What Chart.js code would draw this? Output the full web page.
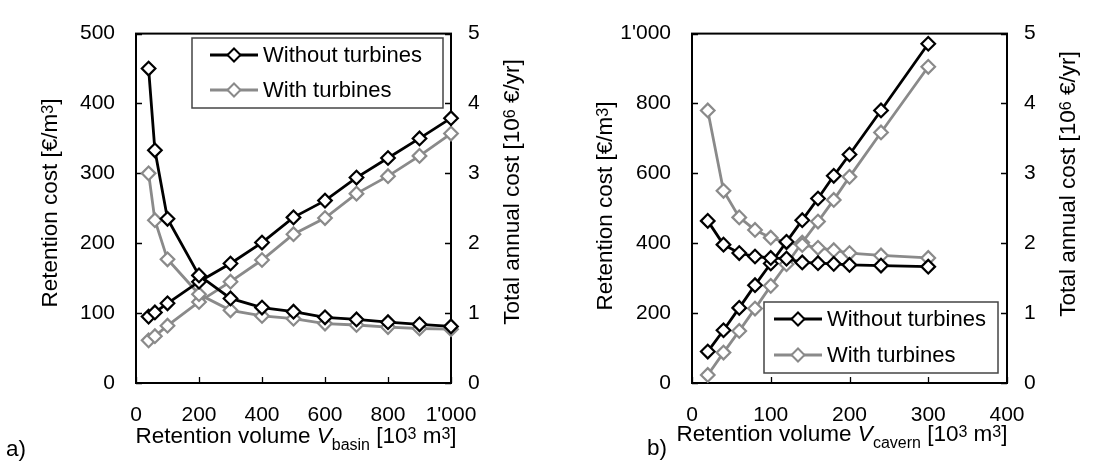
<!DOCTYPE html>
<html>
<head>
<meta charset="utf-8">
<script src="https://cdn.jsdelivr.net/npm/chart.js@4.4.1/dist/chart.umd.min.js"></script>
<style>
  body { margin: 0; background: #fff; }
  canvas { position: absolute; top: 0; }
</style>
</head>
<body>
<canvas id="chartA" width="557" height="463" style="left:0"></canvas>
<canvas id="chartB" width="560" height="463" style="left:557px"></canvas>
<script>
// a) retention basin
var volumeBasin = [40, 60, 100, 200, 300, 400, 500, 600, 700, 800, 900, 1000];
var costBasinNoTurb = [450, 333, 235, 154, 121, 108, 102, 94, 91, 87, 84, 81];
var costBasinTurb = [300, 233, 177, 127, 104, 96, 92, 85, 83, 80, 78, 77];
var annualBasinNoTurb = [0.95, 1.01, 1.14, 1.45, 1.71, 2.01, 2.37, 2.61, 2.94, 3.22, 3.50, 3.79];
var annualBasinTurb = [0.61, 0.67, 0.82, 1.16, 1.45, 1.76, 2.13, 2.36, 2.71, 2.96, 3.25, 3.57];

// b) cavern
var volumeCavern = [20, 40, 60, 80, 100, 120, 140, 160, 180, 200, 240, 300];
var costCavernNoTurb = [464, 396, 372, 362, 358, 356, 345, 343, 341, 338, 336, 333];
var costCavernTurb = [780, 550, 474, 438, 416, 402, 395, 387, 380, 372, 365, 358];
var annualCavernNoTurb = [0.45, 0.755, 1.075, 1.40, 1.71, 2.02, 2.33, 2.64, 2.965, 3.27, 3.90, 4.855];
var annualCavernTurb = [0.115, 0.435, 0.745, 1.065, 1.39, 1.70, 2.01, 2.31, 2.62, 2.95, 3.585, 4.525];

var seriesLabels = ['Without turbines', 'With turbines'];
var xTicksA = [0, 200, 400, 600, 800, 1000];
var xTicksB = [0, 100, 200, 300, 400];
var yTicksA = [0, 100, 200, 300, 400, 500];
var yTicksB = [0, 200, 400, 600, 800, 1000];
var y2Ticks = [0, 1, 2, 3, 4, 5];

var FONT = '"Liberation Sans", Arial, sans-serif';
var BLACK = '#000000';
var GREY = '#8a8a8a';
var TITLE_SIZE = 22.5;

function pts(xs, ys) {
    return xs.map(function (x, i) { return { x: x, y: ys[i] }; });
}

function fmt(v) {
    return String(v).replace(/\B(?=(\d{3})+(?!\d))/g, "'");
}

function fontFor(p, size) {
    if (p.s === 'sup' || p.s === 'sub') return Math.round(size * 0.7) + 'px ' + FONT;
    if (p.s === 'it') return 'italic ' + size + 'px ' + FONT;
    return size + 'px ' + FONT;
}

// text with italic / raised / lowered parts, centred on (x, y)
function drawRich(ctx, parts, x, y, size, rotate, align) {
    ctx.save();
    ctx.translate(x, y);
    if (rotate) ctx.rotate(-Math.PI / 2);
    ctx.textBaseline = 'alphabetic';
    ctx.textAlign = 'left';
    ctx.fillStyle = '#000';
    var total = 0;
    parts.forEach(function (p) { ctx.font = fontFor(p, size); total += ctx.measureText(p.t).width; });
    var cx = align === 'left' ? 0 : -total / 2;
    parts.forEach(function (p) {
        ctx.font = fontFor(p, size);
        var dy = p.s === 'sup' ? -0.2 * size : (p.s === 'sub' ? 0.3 * size : 0);
        ctx.fillText(p.t, cx, 0.36 * size + dy);
        cx += ctx.measureText(p.t).width;
    });
    ctx.restore();
}

var decorPlugin = {
    id: 'decor',
    beforeDatasetsDraw: function (chart, args, o) {
        var ctx = chart.ctx, a = chart.chartArea;
        ctx.save();
        ctx.strokeStyle = '#000';
        ctx.lineWidth = 2;
        ctx.strokeRect(a.left, a.top, a.right - a.left, a.bottom - a.top);
        ctx.lineWidth = 1.3;
        ctx.beginPath();
        var sx = chart.scales.x, sy = chart.scales.y, sy2 = chart.scales.y2;
        sx.ticks.forEach(function (t) {
            var px = Math.round(sx.getPixelForValue(t.value)) + 0.5;
            ctx.moveTo(px, a.bottom); ctx.lineTo(px, a.bottom - 6);
        });
        sy.ticks.forEach(function (t) {
            var py = Math.round(sy.getPixelForValue(t.value)) + 0.5;
            ctx.moveTo(a.left, py); ctx.lineTo(a.left + 6, py);
        });
        sy2.ticks.forEach(function (t) {
            var py = Math.round(sy2.getPixelForValue(t.value)) + 0.5;
            ctx.moveTo(a.right, py); ctx.lineTo(a.right - 6, py);
        });
        ctx.stroke();
        ctx.restore();
    },
    afterDraw: function (chart, args, o) {
        var ctx = chart.ctx;
        // legend
        var L = o.legend;
        ctx.save();
        ctx.fillStyle = '#fff';
        ctx.fillRect(L.x, L.y, L.w, L.h);
        ctx.strokeStyle = '#444';
        ctx.lineWidth = 1.5;
        ctx.strokeRect(L.x, L.y, L.w, L.h);
        [BLACK, GREY].forEach(function (col, i) {
            var ry = L.rows[i];
            ctx.strokeStyle = col;
            ctx.lineWidth = 2.8;
            ctx.beginPath();
            ctx.moveTo(L.lx0, ry); ctx.lineTo(L.lx1, ry);
            ctx.stroke();
            var mx = (L.lx0 + L.lx1) / 2, r = 6.5;
            ctx.fillStyle = '#fff';
            ctx.lineWidth = 2;
            ctx.beginPath();
            ctx.moveTo(mx - r, ry); ctx.lineTo(mx, ry - r); ctx.lineTo(mx + r, ry); ctx.lineTo(mx, ry + r);
            ctx.closePath();
            ctx.fill(); ctx.stroke();
            ctx.fillStyle = '#000';
            ctx.font = '22px ' + FONT;
            ctx.textBaseline = 'middle';
            ctx.textAlign = 'left';
            ctx.fillText(chart.data.datasets[i * 2].label, L.tx, ry + 1);
        });
        ctx.restore();
        // axis titles
        drawRich(ctx, o.yTitle.parts, o.yTitle.x, o.yTitle.y, TITLE_SIZE, true);
        drawRich(ctx, o.y2Title.parts, o.y2Title.x, o.y2Title.y, TITLE_SIZE, true);
        drawRich(ctx, o.xTitle.parts, o.xTitle.x, o.xTitle.y, TITLE_SIZE, false);
        drawRich(ctx, [{ t: o.panel.t }], o.panel.x, o.panel.y, TITLE_SIZE, false, 'left');
    }
};

function series(label, xs, ys, col, axis) {
    return {
        label: label,
        data: pts(xs, ys),
        yAxisID: axis,
        borderColor: col,
        borderWidth: 2.8,
        pointStyle: 'rectRot',
        pointRadius: 6.8,
        pointBackgroundColor: '#fff',
        pointBorderColor: col,
        pointBorderWidth: 2.2,
        tension: 0,
        clip: false
    };
}

function tickFont() { return { family: FONT, size: 21 }; }

function makeChart(id, cfg) {
    var W = cfg.width, H = 463;
    return new Chart(document.getElementById(id), {
        type: 'line',
        data: {
            datasets: [
                series(seriesLabels[0], cfg.xs, cfg.costNo, BLACK, 'y'),
                series(seriesLabels[0], cfg.xs, cfg.annualNo, BLACK, 'y2'),
                series(seriesLabels[1], cfg.xs, cfg.costT, GREY, 'y'),
                series(seriesLabels[1], cfg.xs, cfg.annualT, GREY, 'y2')
            ]
        },
        options: {
            responsive: false,
            animation: false,
            events: [],
            layout: { padding: { top: cfg.area.top, left: 0, right: 0, bottom: 0 } },
            plugins: {
                legend: { display: false },
                tooltip: { enabled: false },
                decor: cfg.decor
            },
            scales: {
                x: {
                    type: 'linear', position: 'bottom', min: cfg.xTicks[0], max: cfg.xTicks[cfg.xTicks.length - 1],
                    grid: { display: false, drawTicks: false }, border: { display: false },
                    afterBuildTicks: function (s) { s.ticks = cfg.xTicks.map(function (v) { return { value: v }; }); },
                    afterFit: function (s) { s.height = H - cfg.area.bottom; },
                    ticks: { font: tickFont(), color: '#000', padding: 20, maxRotation: 0, callback: fmt }
                },
                y: {
                    position: 'left', min: cfg.yTicks[0], max: cfg.yTicks[cfg.yTicks.length - 1],
                    grid: { display: false, drawTicks: false }, border: { display: false },
                    afterBuildTicks: function (s) { s.ticks = cfg.yTicks.map(function (v) { return { value: v }; }); },
                    afterFit: function (s) { s.width = cfg.area.left; },
                    ticks: { font: tickFont(), color: '#000', padding: 21, callback: fmt }
                },
                y2: {
                    position: 'right', min: y2Ticks[0], max: y2Ticks[y2Ticks.length - 1],
                    grid: { display: false, drawTicks: false }, border: { display: false },
                    afterBuildTicks: function (s) { s.ticks = y2Ticks.map(function (v) { return { value: v }; }); },
                    afterFit: function (s) { s.width = W - cfg.area.right; },
                    ticks: { font: tickFont(), color: '#000', padding: 17 }
                }
            }
        },
        plugins: [decorPlugin]
    });
}

var yTitleParts = [{ t: 'Retention cost [€/m' }, { t: '3', s: 'sup' }, { t: ']' }];
var y2TitleParts = [{ t: 'Total annual cost [10' }, { t: '6', s: 'sup' }, { t: ' €/yr]' }];

makeChart('chartA', {
    width: 557,
    area: { left: 136, right: 451, top: 27, bottom: 383 },
    xs: volumeBasin, costNo: costBasinNoTurb, costT: costBasinTurb,
    annualNo: annualBasinNoTurb, annualT: annualBasinTurb,
    xTicks: xTicksA, yTicks: yTicksA,
    decor: {
        legend: { x: 192, y: 38, w: 251, h: 70, rows: [55, 90], lx0: 210, lx1: 258, tx: 263 },
        yTitle: { parts: yTitleParts, x: 49, y: 203 },
        y2Title: { parts: y2TitleParts, x: 511, y: 192 },
        xTitle: {
            parts: [{ t: 'Retention volume ' }, { t: 'V', s: 'it' }, { t: 'basin', s: 'sub' }, { t: ' [10' }, { t: '3', s: 'sup' }, { t: ' m' }, { t: '3', s: 'sup' }, { t: ']' }],
            x: 296, y: 435
        },
        panel: { t: 'a)', x: 6, y: 448 }
    }
});

makeChart('chartB', {
    width: 560,
    area: { left: 135, right: 450, top: 20, bottom: 383 },
    xs: volumeCavern, costNo: costCavernNoTurb, costT: costCavernTurb,
    annualNo: annualCavernNoTurb, annualT: annualCavernTurb,
    xTicks: xTicksB, yTicks: yTicksB,
    decor: {
        legend: { x: 207, y: 302, w: 234, h: 71, rows: [319, 355], lx0: 217, lx1: 265, tx: 270 },
        yTitle: { parts: yTitleParts, x: 47, y: 206 },
        y2Title: { parts: y2TitleParts, x: 510, y: 184 },
        xTitle: {
            parts: [{ t: 'Retention volume ' }, { t: 'V', s: 'it' }, { t: 'cavern', s: 'sub' }, { t: ' [10' }, { t: '3', s: 'sup' }, { t: ' m' }, { t: '3', s: 'sup' }, { t: ']' }],
            x: 285, y: 433
        },
        panel: { t: 'b)', x: 90, y: 447 }
    }
});
</script>
</body>
</html>
